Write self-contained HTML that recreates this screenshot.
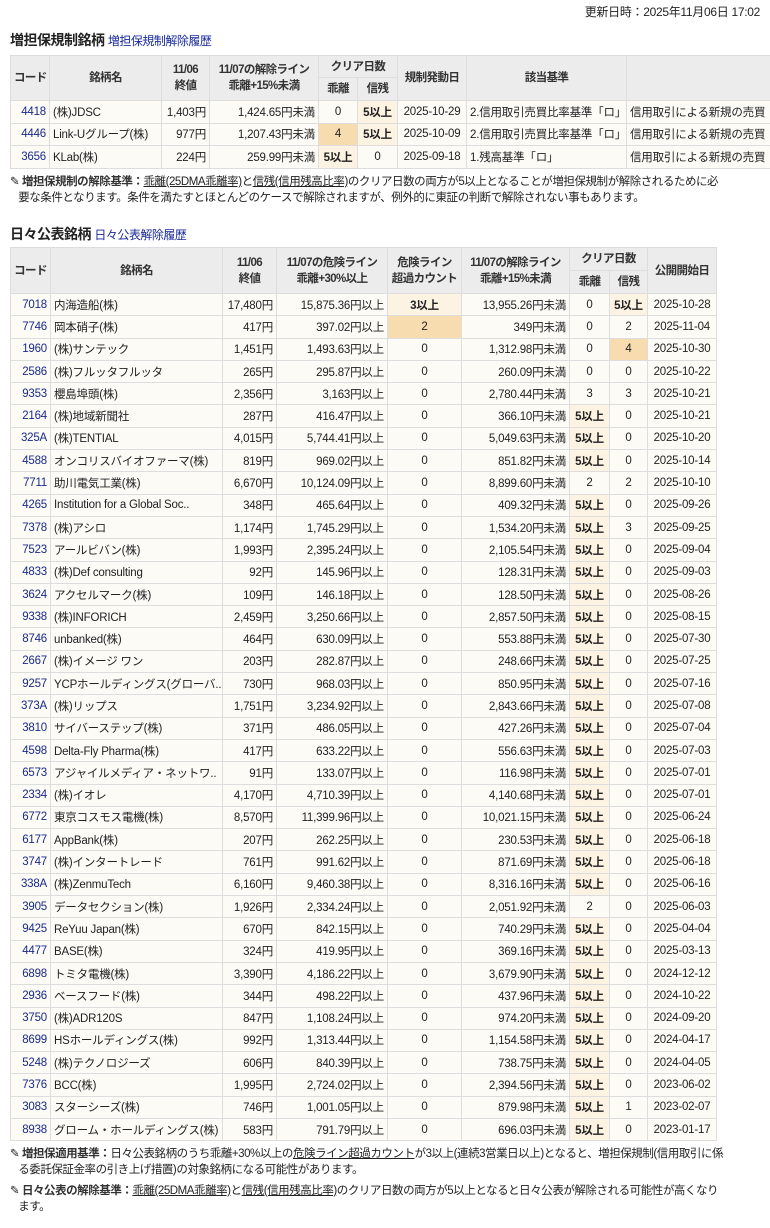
<!DOCTYPE html>
<html><head><meta charset="utf-8">
<style>
html,body{margin:0;padding:0;}
body{width:770px;height:1228px;overflow:hidden;position:relative;background:#fff;font-family:"Liberation Sans","Noto Sans CJK JP",sans-serif;font-size:12px;color:#222;}
.upd{position:absolute;right:10px;top:3px;font-size:12px;letter-spacing:-0.3px;}
.ttl{position:absolute;left:10px;font-size:14px;font-weight:bold;color:#222;letter-spacing:-0.5px;}
.ttl a{font-weight:normal;font-size:12px;color:#1a2a9a;text-decoration:none;}
table{position:absolute;border-collapse:collapse;table-layout:fixed;}
td,th{border:1px solid #ddd;padding:0 3px;white-space:nowrap;overflow:hidden;font-size:11.5px;text-align:center;letter-spacing:-0.2px;}
th{background:#ececec;font-weight:bold;color:#333;line-height:16px;letter-spacing:-0.6px;}
td{background:#fcfbf6;}
td.c{color:#1a2a8a;text-align:right;}
td.l{text-align:left;}
td.r{text-align:right;}
td.h{background:#fdf3e3;font-weight:bold;}
td.d{background:#f6dcae;}
#t1 tr.b td{height:21.5px;}
#t2 tr.b td{height:21.3px;}
.note{position:absolute;left:10px;width:758px;font-size:11.5px;line-height:16px;white-space:nowrap;overflow:hidden;letter-spacing:-0.45px;}
.note b{color:#333;}
.note u{text-decoration:underline;}
</style></head><body>
<div class="upd">更新日時：2025年11月06日 17:02</div>
<div class="ttl" style="top:30px">増担保規制銘柄 <a>増担保規制解除履歴</a></div>
<table id="t1" style="left:10px;top:55px;width:790px;">
<colgroup><col style="width:39px"><col style="width:112px"><col style="width:48px"><col style="width:109px"><col style="width:39px"><col style="width:40px"><col style="width:69px"><col style="width:160px"><col style="width:174px"></colgroup>
<tr style="height:22px"><th rowspan="2">コード</th><th rowspan="2">銘柄名</th><th rowspan="2">11/06<br>終値</th><th rowspan="2">11/07の解除ライン<br>乖離+15%未満</th><th colspan="2">クリア日数</th><th rowspan="2">規制発動日</th><th rowspan="2">該当基準</th><th rowspan="2"></th></tr>
<tr style="height:23px"><th>乖離</th><th>信残</th></tr>
<tr class="b"><td class="c">4418</td><td class="l">(株)JDSC</td><td class="r">1,403円</td><td class="r">1,424.65円未満</td><td>0</td><td class="h">5以上</td><td>2025-10-29</td><td class="l">2.信用取引売買比率基準「ロ」</td><td class="l">信用取引による新規の売買</td></tr>
<tr class="b"><td class="c">4446</td><td class="l">Link-Uグループ(株)</td><td class="r">977円</td><td class="r">1,207.43円未満</td><td class="d">4</td><td class="h">5以上</td><td>2025-10-09</td><td class="l">2.信用取引売買比率基準「ロ」</td><td class="l">信用取引による新規の売買</td></tr>
<tr class="b"><td class="c">3656</td><td class="l">KLab(株)</td><td class="r">224円</td><td class="r">259.99円未満</td><td class="h">5以上</td><td>0</td><td>2025-09-18</td><td class="l">1.残高基準「ロ」</td><td class="l">信用取引による新規の売買</td></tr>
</table>
<div class="note" style="top:174px">✎ <b>増担保規制の解除基準：</b><u>乖離(25DMA乖離率)</u>と<u>信残(信用残高比率)</u>のクリア日数の両方が5以上となることが増担保規制が解除されるために必<br>&nbsp;&nbsp;&nbsp;要な条件となります。条件を満たすとほとんどのケースで解除されますが、例外的に東証の判断で解除されない事もあります。</div>
<div class="ttl" style="top:224px">日々公表銘柄 <a>日々公表解除履歴</a></div>
<table id="t2" style="left:10px;top:247px;width:706px;">
<colgroup><col style="width:40px"><col style="width:172px"><col style="width:54px"><col style="width:111px"><col style="width:74px"><col style="width:108px"><col style="width:40px"><col style="width:38px"><col style="width:69px"></colgroup>
<tr style="height:23px"><th rowspan="2">コード</th><th rowspan="2">銘柄名</th><th rowspan="2">11/06<br>終値</th><th rowspan="2">11/07の危険ライン<br>乖離+30%以上</th><th rowspan="2">危険ライン<br>超過カウント</th><th rowspan="2">11/07の解除ライン<br>乖離+15%未満</th><th colspan="2">クリア日数</th><th rowspan="2">公開開始日</th></tr>
<tr style="height:23px"><th>乖離</th><th>信残</th></tr>
<tr class="b"><td class="c">7018</td><td class="l">内海造船(株)</td><td class="r">17,480円</td><td class="r">15,875.36円以上</td><td class="h">3以上</td><td class="r">13,955.26円未満</td><td>0</td><td class="h">5以上</td><td>2025-10-28</td></tr>
<tr class="b"><td class="c">7746</td><td class="l">岡本硝子(株)</td><td class="r">417円</td><td class="r">397.02円以上</td><td class="d">2</td><td class="r">349円未満</td><td>0</td><td>2</td><td>2025-11-04</td></tr>
<tr class="b"><td class="c">1960</td><td class="l">(株)サンテック</td><td class="r">1,451円</td><td class="r">1,493.63円以上</td><td>0</td><td class="r">1,312.98円未満</td><td>0</td><td class="d">4</td><td>2025-10-30</td></tr>
<tr class="b"><td class="c">2586</td><td class="l">(株)フルッタフルッタ</td><td class="r">265円</td><td class="r">295.87円以上</td><td>0</td><td class="r">260.09円未満</td><td>0</td><td>0</td><td>2025-10-22</td></tr>
<tr class="b"><td class="c">9353</td><td class="l">櫻島埠頭(株)</td><td class="r">2,356円</td><td class="r">3,163円以上</td><td>0</td><td class="r">2,780.44円未満</td><td>3</td><td>3</td><td>2025-10-21</td></tr>
<tr class="b"><td class="c">2164</td><td class="l">(株)地域新聞社</td><td class="r">287円</td><td class="r">416.47円以上</td><td>0</td><td class="r">366.10円未満</td><td class="h">5以上</td><td>0</td><td>2025-10-21</td></tr>
<tr class="b"><td class="c">325A</td><td class="l">(株)TENTIAL</td><td class="r">4,015円</td><td class="r">5,744.41円以上</td><td>0</td><td class="r">5,049.63円未満</td><td class="h">5以上</td><td>0</td><td>2025-10-20</td></tr>
<tr class="b"><td class="c">4588</td><td class="l">オンコリスバイオファーマ(株)</td><td class="r">819円</td><td class="r">969.02円以上</td><td>0</td><td class="r">851.82円未満</td><td class="h">5以上</td><td>0</td><td>2025-10-14</td></tr>
<tr class="b"><td class="c">7711</td><td class="l">助川電気工業(株)</td><td class="r">6,670円</td><td class="r">10,124.09円以上</td><td>0</td><td class="r">8,899.60円未満</td><td>2</td><td>2</td><td>2025-10-10</td></tr>
<tr class="b"><td class="c">4265</td><td class="l">Institution for a Global Soc..</td><td class="r">348円</td><td class="r">465.64円以上</td><td>0</td><td class="r">409.32円未満</td><td class="h">5以上</td><td>0</td><td>2025-09-26</td></tr>
<tr class="b"><td class="c">7378</td><td class="l">(株)アシロ</td><td class="r">1,174円</td><td class="r">1,745.29円以上</td><td>0</td><td class="r">1,534.20円未満</td><td class="h">5以上</td><td>3</td><td>2025-09-25</td></tr>
<tr class="b"><td class="c">7523</td><td class="l">アールビバン(株)</td><td class="r">1,993円</td><td class="r">2,395.24円以上</td><td>0</td><td class="r">2,105.54円未満</td><td class="h">5以上</td><td>0</td><td>2025-09-04</td></tr>
<tr class="b"><td class="c">4833</td><td class="l">(株)Def consulting</td><td class="r">92円</td><td class="r">145.96円以上</td><td>0</td><td class="r">128.31円未満</td><td class="h">5以上</td><td>0</td><td>2025-09-03</td></tr>
<tr class="b"><td class="c">3624</td><td class="l">アクセルマーク(株)</td><td class="r">109円</td><td class="r">146.18円以上</td><td>0</td><td class="r">128.50円未満</td><td class="h">5以上</td><td>0</td><td>2025-08-26</td></tr>
<tr class="b"><td class="c">9338</td><td class="l">(株)INFORICH</td><td class="r">2,459円</td><td class="r">3,250.66円以上</td><td>0</td><td class="r">2,857.50円未満</td><td class="h">5以上</td><td>0</td><td>2025-08-15</td></tr>
<tr class="b"><td class="c">8746</td><td class="l">unbanked(株)</td><td class="r">464円</td><td class="r">630.09円以上</td><td>0</td><td class="r">553.88円未満</td><td class="h">5以上</td><td>0</td><td>2025-07-30</td></tr>
<tr class="b"><td class="c">2667</td><td class="l">(株)イメージ ワン</td><td class="r">203円</td><td class="r">282.87円以上</td><td>0</td><td class="r">248.66円未満</td><td class="h">5以上</td><td>0</td><td>2025-07-25</td></tr>
<tr class="b"><td class="c">9257</td><td class="l">YCPホールディングス(グローバ..</td><td class="r">730円</td><td class="r">968.03円以上</td><td>0</td><td class="r">850.95円未満</td><td class="h">5以上</td><td>0</td><td>2025-07-16</td></tr>
<tr class="b"><td class="c">373A</td><td class="l">(株)リップス</td><td class="r">1,751円</td><td class="r">3,234.92円以上</td><td>0</td><td class="r">2,843.66円未満</td><td class="h">5以上</td><td>0</td><td>2025-07-08</td></tr>
<tr class="b"><td class="c">3810</td><td class="l">サイバーステップ(株)</td><td class="r">371円</td><td class="r">486.05円以上</td><td>0</td><td class="r">427.26円未満</td><td class="h">5以上</td><td>0</td><td>2025-07-04</td></tr>
<tr class="b"><td class="c">4598</td><td class="l">Delta-Fly Pharma(株)</td><td class="r">417円</td><td class="r">633.22円以上</td><td>0</td><td class="r">556.63円未満</td><td class="h">5以上</td><td>0</td><td>2025-07-03</td></tr>
<tr class="b"><td class="c">6573</td><td class="l">アジャイルメディア・ネットワ..</td><td class="r">91円</td><td class="r">133.07円以上</td><td>0</td><td class="r">116.98円未満</td><td class="h">5以上</td><td>0</td><td>2025-07-01</td></tr>
<tr class="b"><td class="c">2334</td><td class="l">(株)イオレ</td><td class="r">4,170円</td><td class="r">4,710.39円以上</td><td>0</td><td class="r">4,140.68円未満</td><td class="h">5以上</td><td>0</td><td>2025-07-01</td></tr>
<tr class="b"><td class="c">6772</td><td class="l">東京コスモス電機(株)</td><td class="r">8,570円</td><td class="r">11,399.96円以上</td><td>0</td><td class="r">10,021.15円未満</td><td class="h">5以上</td><td>0</td><td>2025-06-24</td></tr>
<tr class="b"><td class="c">6177</td><td class="l">AppBank(株)</td><td class="r">207円</td><td class="r">262.25円以上</td><td>0</td><td class="r">230.53円未満</td><td class="h">5以上</td><td>0</td><td>2025-06-18</td></tr>
<tr class="b"><td class="c">3747</td><td class="l">(株)インタートレード</td><td class="r">761円</td><td class="r">991.62円以上</td><td>0</td><td class="r">871.69円未満</td><td class="h">5以上</td><td>0</td><td>2025-06-18</td></tr>
<tr class="b"><td class="c">338A</td><td class="l">(株)ZenmuTech</td><td class="r">6,160円</td><td class="r">9,460.38円以上</td><td>0</td><td class="r">8,316.16円未満</td><td class="h">5以上</td><td>0</td><td>2025-06-16</td></tr>
<tr class="b"><td class="c">3905</td><td class="l">データセクション(株)</td><td class="r">1,926円</td><td class="r">2,334.24円以上</td><td>0</td><td class="r">2,051.92円未満</td><td>2</td><td>0</td><td>2025-06-03</td></tr>
<tr class="b"><td class="c">9425</td><td class="l">ReYuu Japan(株)</td><td class="r">670円</td><td class="r">842.15円以上</td><td>0</td><td class="r">740.29円未満</td><td class="h">5以上</td><td>0</td><td>2025-04-04</td></tr>
<tr class="b"><td class="c">4477</td><td class="l">BASE(株)</td><td class="r">324円</td><td class="r">419.95円以上</td><td>0</td><td class="r">369.16円未満</td><td class="h">5以上</td><td>0</td><td>2025-03-13</td></tr>
<tr class="b"><td class="c">6898</td><td class="l">トミタ電機(株)</td><td class="r">3,390円</td><td class="r">4,186.22円以上</td><td>0</td><td class="r">3,679.90円未満</td><td class="h">5以上</td><td>0</td><td>2024-12-12</td></tr>
<tr class="b"><td class="c">2936</td><td class="l">ベースフード(株)</td><td class="r">344円</td><td class="r">498.22円以上</td><td>0</td><td class="r">437.96円未満</td><td class="h">5以上</td><td>0</td><td>2024-10-22</td></tr>
<tr class="b"><td class="c">3750</td><td class="l">(株)ADR120S</td><td class="r">847円</td><td class="r">1,108.24円以上</td><td>0</td><td class="r">974.20円未満</td><td class="h">5以上</td><td>0</td><td>2024-09-20</td></tr>
<tr class="b"><td class="c">8699</td><td class="l">HSホールディングス(株)</td><td class="r">992円</td><td class="r">1,313.44円以上</td><td>0</td><td class="r">1,154.58円未満</td><td class="h">5以上</td><td>0</td><td>2024-04-17</td></tr>
<tr class="b"><td class="c">5248</td><td class="l">(株)テクノロジーズ</td><td class="r">606円</td><td class="r">840.39円以上</td><td>0</td><td class="r">738.75円未満</td><td class="h">5以上</td><td>0</td><td>2024-04-05</td></tr>
<tr class="b"><td class="c">7376</td><td class="l">BCC(株)</td><td class="r">1,995円</td><td class="r">2,724.02円以上</td><td>0</td><td class="r">2,394.56円未満</td><td class="h">5以上</td><td>0</td><td>2023-06-02</td></tr>
<tr class="b"><td class="c">3083</td><td class="l">スターシーズ(株)</td><td class="r">746円</td><td class="r">1,001.05円以上</td><td>0</td><td class="r">879.98円未満</td><td class="h">5以上</td><td>1</td><td>2023-02-07</td></tr>
<tr class="b"><td class="c">8938</td><td class="l">グローム・ホールディングス(株)</td><td class="r">583円</td><td class="r">791.79円以上</td><td>0</td><td class="r">696.03円未満</td><td class="h">5以上</td><td>0</td><td>2023-01-17</td></tr>
</table>
<div class="note" style="top:1146px">✎ <b>増担保適用基準：</b>日々公表銘柄のうち乖離+30%以上の<u>危険ライン超過カウント</u>が3以上(連続3営業日以上)となると、増担保規制(信用取引に係<br>&nbsp;&nbsp;&nbsp;る委託保証金率の引き上げ措置)の対象銘柄になる可能性があります。</div>
<div class="note" style="top:1183px">✎ <b>日々公表の解除基準：</b><u>乖離(25DMA乖離率)</u>と<u>信残(信用残高比率)</u>のクリア日数の両方が5以上となると日々公表が解除される可能性が高くなり<br>&nbsp;&nbsp;&nbsp;ます。</div>
</body></html>
